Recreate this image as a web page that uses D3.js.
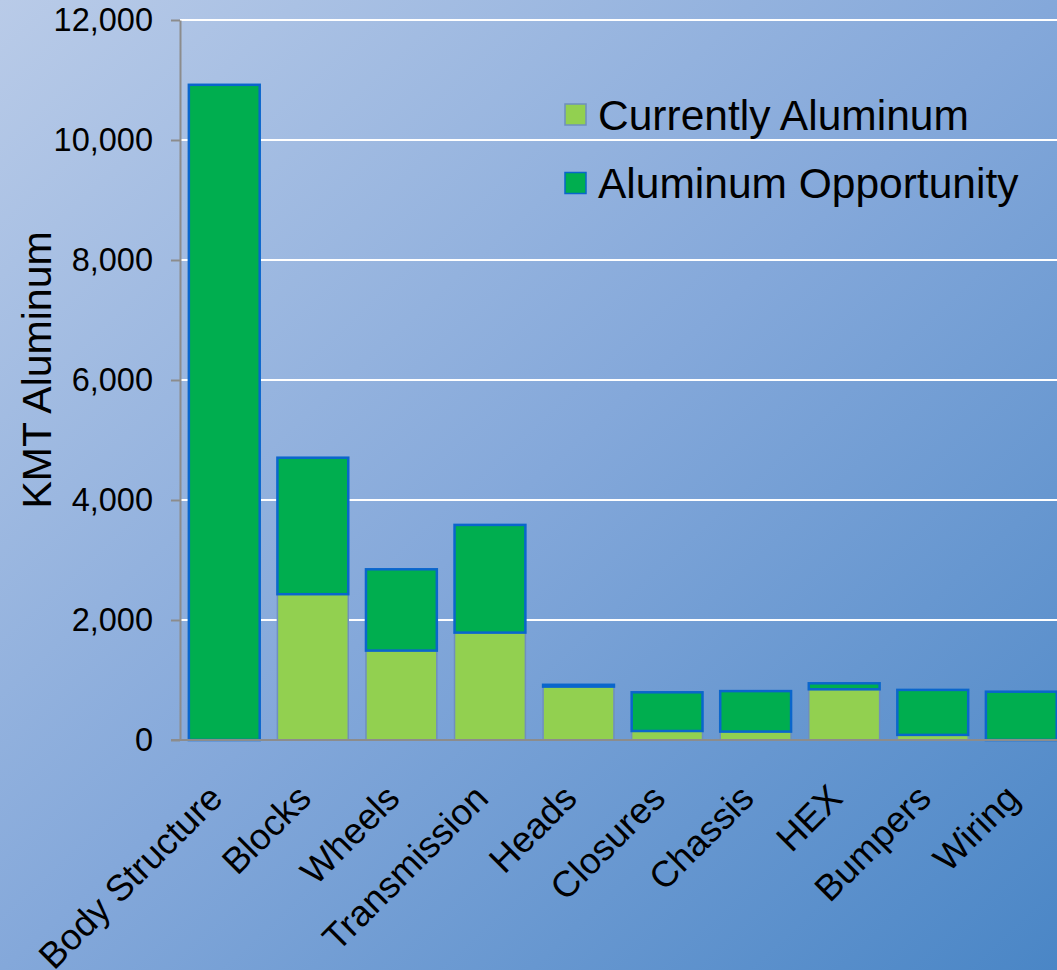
<!DOCTYPE html>
<html>
<head>
<meta charset="utf-8">
<script src="https://cdn.jsdelivr.net/npm/d3@7"></script>
<style>
  html, body { margin: 0; padding: 0; }
  svg { display: block; font-family: "Liberation Sans", Arial, sans-serif; }
</style>
</head>
<body>
<svg id="chart" width="1057" height="970"></svg>
<script>
// Aluminum use by vehicle component, in KMT
const categories = ["Body Structure", "Blocks", "Wheels", "Transmission", "Heads",
                    "Closures", "Chassis", "HEX", "Bumpers", "Wiring"];
const currentlyAluminum = [0, 2430, 1490, 1790, 890, 150, 140, 845, 85, 0];
const aluminumOpportunity = [10920, 2275, 1355, 1795, 30, 645, 675, 100, 750, 805];
const yTicks = [0, 2000, 4000, 6000, 8000, 10000, 12000];
const seriesNames = ["Currently Aluminum", "Aluminum Opportunity"];

const W = 1057, H = 970;
const svg = d3.select("#chart");

// background gradient
const defs = svg.append("defs");
const grad = defs.append("linearGradient")
  .attr("id", "bg").attr("x1", "0").attr("y1", "0").attr("x2", "1").attr("y2", "1");
grad.append("stop").attr("offset", "0%").attr("stop-color", "#b9cbe8");
grad.append("stop").attr("offset", "50%").attr("stop-color", "#84a8da");
grad.append("stop").attr("offset", "100%").attr("stop-color", "#4a86c6");
svg.append("rect").attr("width", W).attr("height", H).attr("fill", "url(#bg)");

const x = d3.scaleBand().domain(categories).range([180, 1065.6])
  .paddingInner(0.2).paddingOuter(0.1);
const y = d3.scaleLinear().domain([0, 12000]).range([740, 20]);

// gridlines
svg.append("g").selectAll("line")
  .data(yTicks.filter(d => d > 0))
  .join("line")
  .attr("x1", 180).attr("x2", W)
  .attr("y1", d => y(d)).attr("y2", d => y(d))
  .attr("stroke", "#ffffff").attr("stroke-width", 2);

// y axis
const yAxis = svg.append("g").attr("transform", "translate(180,0)")
  .call(d3.axisLeft(y).tickValues(yTicks).tickFormat(d3.format(",")).tickSizeInner(9).tickSizeOuter(0).tickPadding(18));
yAxis.select(".domain").attr("stroke", "#8c8c8c").attr("stroke-width", 2);
yAxis.selectAll(".tick line").attr("stroke", "#8c8c8c").attr("stroke-width", 2);
yAxis.selectAll(".tick text").attr("font-size", 32.5).attr("fill", "#000")
  .attr("font-family", "Liberation Sans, Arial, sans-serif");

// stacked bars
const stackData = categories.map((c, i) => ({
  cat: c, current: currentlyAluminum[i], opp: aluminumOpportunity[i]
}));

svg.append("g").selectAll("rect")
  .data(stackData.filter(d => d.current > 0))
  .join("rect")
  .attr("x", d => x(d.cat))
  .attr("width", x.bandwidth())
  .attr("y", d => y(d.current))
  .attr("height", d => y(0) - y(d.current))
  .attr("fill", "#92d050")
  .attr("stroke", "#6f8fbf").attr("stroke-width", 1.5);

svg.append("g").selectAll("rect")
  .data(stackData)
  .join("rect")
  .attr("x", d => x(d.cat))
  .attr("width", x.bandwidth())
  .attr("y", d => y(d.current + d.opp))
  .attr("height", d => y(d.current) - y(d.current + d.opp))
  .attr("fill", "#00ae4f")
  .attr("stroke", "#0a66cc").attr("stroke-width", 2.5);

// x axis baseline
svg.append("line")
  .attr("x1", 171).attr("x2", W)
  .attr("y1", y(0)).attr("y2", y(0))
  .attr("stroke", "#8c8c8c").attr("stroke-width", 2);

// category labels
svg.append("g").selectAll("text")
  .data(categories)
  .join("text")
  .attr("transform", d => `translate(${x(d) + x.bandwidth() / 2 - 18},${y(0) + 42}) rotate(-45)`)
  .attr("text-anchor", "end")
  .attr("dy", "0.71em")
  .attr("font-size", 36.5)
  .attr("fill", "#000")
  .text(d => d);

// y axis title
svg.append("text")
  .attr("transform", "translate(51,370) rotate(-90)")
  .attr("text-anchor", "middle")
  .attr("font-size", 41)
  .attr("fill", "#000")
  .text("KMT Aluminum");

// legend
const legendFill = ["#92d050", "#00ae4f"];
const legendStroke = ["#6f8fbf", "#0a66cc"];
const legend = svg.append("g").selectAll("g")
  .data(seriesNames)
  .join("g")
  .attr("transform", (d, i) => `translate(565,${104 + i * 68.5})`);
legend.append("rect")
  .attr("width", 21).attr("height", 21)
  .attr("fill", (d, i) => legendFill[i])
  .attr("stroke", (d, i) => legendStroke[i]).attr("stroke-width", 1.5);
legend.append("text")
  .attr("x", 33).attr("y", 25.5)
  .attr("font-size", 42.5)
  .attr("fill", "#000")
  .text(d => d);
</script>
</body>
</html>
